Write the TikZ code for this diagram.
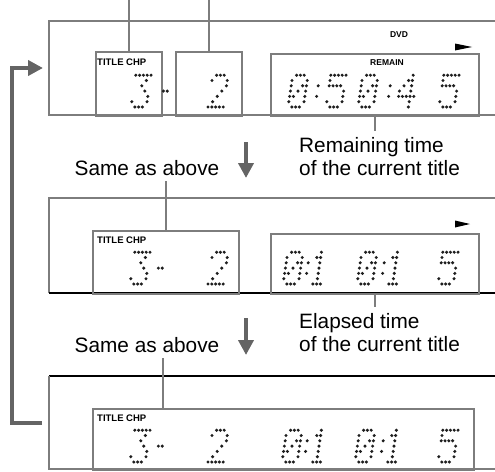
\documentclass[tikz,border=0pt]{standalone}
\usepackage{fontspec}
\setmainfont{Liberation Sans}
\usetikzlibrary{arrows.meta}

\definecolor{panelgray}{RGB}{125,125,125}
\definecolor{arrowgray}{RGB}{100,100,100}
\definecolor{dotgray}{RGB}{30,30,30}

\tikzset{
  panel/.style={draw=panelgray, line width=1.5pt},
  lcdbox/.style={draw=panelgray, line width=1.5pt, rectangle, inner sep=0pt, anchor=north west},
  leader/.style={draw=panelgray, line width=1.5pt},
  flow/.style={draw=arrowgray, line width=4pt, -{Triangle[width=15pt,length=15pt]}},
  caption/.style={font=\fontsize{20.8}{23}\selectfont, inner xsep=0pt, inner ysep=6pt, align=left},
  tag/.style={font=\bfseries\fontsize{8.5}{9}\selectfont, inner sep=0pt, anchor=base},
  titletag/.style={font=\bfseries\fontsize{9.5}{10}\selectfont, inner sep=0pt, anchor=base west}
}

% dot matrix patterns, rows from top
\def\dmzero{{0,1,1,1,0},{1,0,0,0,1},{1,0,0,1,1},{1,0,1,0,1},{1,1,0,0,1},{1,0,0,0,1},{0,1,1,1,0}}
\def\dmone{{0,0,1,0,0},{0,1,1,0,0},{0,0,1,0,0},{0,0,1,0,0},{0,0,1,0,0},{0,0,1,0,0},{0,1,1,1,0}}
\def\dmtwo{{0,1,1,1,0},{1,0,0,0,1},{0,0,0,0,1},{0,0,0,1,0},{0,0,1,0,0},{0,1,0,0,0},{1,1,1,1,1}}
\def\dmthree{{1,1,1,1,1},{0,0,0,1,0},{0,0,1,0,0},{0,0,0,1,0},{0,0,0,0,1},{1,0,0,0,1},{0,1,1,1,0}}
\def\dmfour{{0,0,0,1,0},{0,0,1,1,0},{0,1,0,1,0},{1,0,0,1,0},{1,1,1,1,1},{0,0,0,1,0},{0,0,0,1,0}}
\def\dmfive{{1,1,1,1,1},{1,0,0,0,0},{1,1,1,1,0},{0,0,0,0,1},{0,0,0,0,1},{1,0,0,0,1},{0,1,1,1,0}}
\def\dmcolon{{0},{0},{1},{0},{1},{0},{0}}
\def\dmdash{{0,0},{0,0},{0,0},{1,1},{0,0},{0,0},{0,0}}

% one slanted dot matrix character, bottom left dot at (#2,#3)
\newcommand{\dmchar}[3]{%
  \foreach \dmrow [count=\dmr from 0] in #1 {
    \foreach \dmbit [count=\dmc from 0] in \dmrow {
      \ifnum\dmbit=1
        \fill[dotgray] ({#2+\dmc*3.8+(6-\dmr)*0.8},{#3-(6-\dmr)*5.3}) circle (1.7pt);
      \fi
    }
  }%
}

\begin{document}
\begin{tikzpicture}[x=1pt, y=-1pt]
  \useasboundingbox (0,0) rectangle (495,471);
  \coordinate (topedge) at (0,0);

  % Pantalla 1
  \draw[panel] (496,21) -- (49,21) -- (49,115) -- (496,115);
  \node[lcdbox, minimum width=66pt, minimum height=64pt] (tc1) at (95,51) {};
  \node[lcdbox, minimum width=66pt, minimum height=64pt] (ch1) at (175,51) {};
  \node[lcdbox, minimum width=208pt, minimum height=62pt] (rm1) at (270,53) {};
  \node[titletag] (tt1) at (97,65) {TITLE CHP};
  \node[tag] (rmtag) at (387,65) {REMAIN};
  \node[tag] (dvd) at (399,37) {DVD};
  \fill (455,43.5) -- (472,47) -- (455,50.5) -- cycle;
  \draw[leader] (tc1.north) -- (tc1.north |- topedge);
  \draw[leader] (ch1.north) -- (ch1.north |- topedge);

  \dmchar{\dmthree}{131}{107}
  \dmchar{\dmdash}{161}{107}
  \dmchar{\dmtwo}{208}{107}
  \dmchar{\dmzero}{288}{107}
  \dmchar{\dmcolon}{315}{107}
  \dmchar{\dmfive}{326}{107}
  \dmchar{\dmzero}{358}{107}
  \dmchar{\dmcolon}{387}{107}
  \dmchar{\dmfour}{397}{107}
  \dmchar{\dmfive}{439}{107}

  \node[caption, anchor=north west] (remain) at (299,131) {Remaining time\\of the current title};
  \draw[leader] (rm1.south) -- (rm1.south |- remain.north);
  \node[caption, anchor=base] (same1) at (147,175) {Same as above};

  % Flechas
  \coordinate (down1a) at (246,142);
  \coordinate (down1b) at (246,178);
  \draw[flow] (down1a) -- (down1b);

  % Pantalla 2
  \draw[panel] (496,198) -- (49,198) -- (49,293);
  \draw[line width=1.5pt] (49,293) -- (496,293);
  \node[lcdbox, minimum width=146pt, minimum height=63pt] (tc2) at (92,230) {};
  \node[lcdbox, minimum width=208pt, minimum height=60pt] (el2) at (270,233) {};
  \node[titletag] (tt2) at (97,243) {TITLE CHP};
  \fill (455,220.5) -- (470,224) -- (455,227.5) -- cycle;
  \draw[leader] (tc2.north) -- (tc2.north |- same1.south);

  \dmchar{\dmthree}{130}{284}
  \dmchar{\dmdash}{156}{284}
  \dmchar{\dmtwo}{208}{284}
  \dmchar{\dmzero}{283}{284}
  \dmchar{\dmcolon}{305}{284}
  \dmchar{\dmone}{309}{284}
  \dmchar{\dmzero}{357}{284}
  \dmchar{\dmcolon}{381}{284}
  \dmchar{\dmone}{385}{284}
  \dmchar{\dmfive}{438}{284}

  \node[caption, anchor=north west] (elapsed) at (299,307) {Elapsed time\\of the current title};
  \draw[leader] (el2.south) -- (el2.south |- elapsed.north);
  \node[caption, anchor=base] (same2) at (147,352) {Same as above};

  \coordinate (down2a) at (246,318);
  \coordinate (down2b) at (246,355);
  \draw[flow] (down2a) -- (down2b);

  % Pantalla 3
  \draw[line width=1.5pt] (49,376) -- (496,376);
  \draw[panel] (49,376) -- (49,469) -- (496,469);
  \node[lcdbox, minimum width=381pt, minimum height=61pt] (all3) at (92,408) {};
  \node[titletag] (tt3) at (97,421) {TITLE CHP};
  \draw[leader] (all3.north west) ++(71,0) coordinate (lead3) -- (lead3 |- same2.south);

  \dmchar{\dmthree}{130}{462}
  \dmchar{\dmdash}{156}{462}
  \dmchar{\dmtwo}{208}{462}
  \dmchar{\dmzero}{282}{462}
  \dmchar{\dmcolon}{304}{462}
  \dmchar{\dmone}{309}{462}
  \dmchar{\dmzero}{355}{462}
  \dmchar{\dmcolon}{380}{462}
  \dmchar{\dmone}{384}{462}
  \dmchar{\dmfive}{438}{462}

  % Retorno
  \coordinate (loopfrom) at (42,423);
  \coordinate (loopto) at (43,68);
  \draw[flow] (loopfrom) -- ++(-30,0) |- (loopto);
\end{tikzpicture}
\end{document}
